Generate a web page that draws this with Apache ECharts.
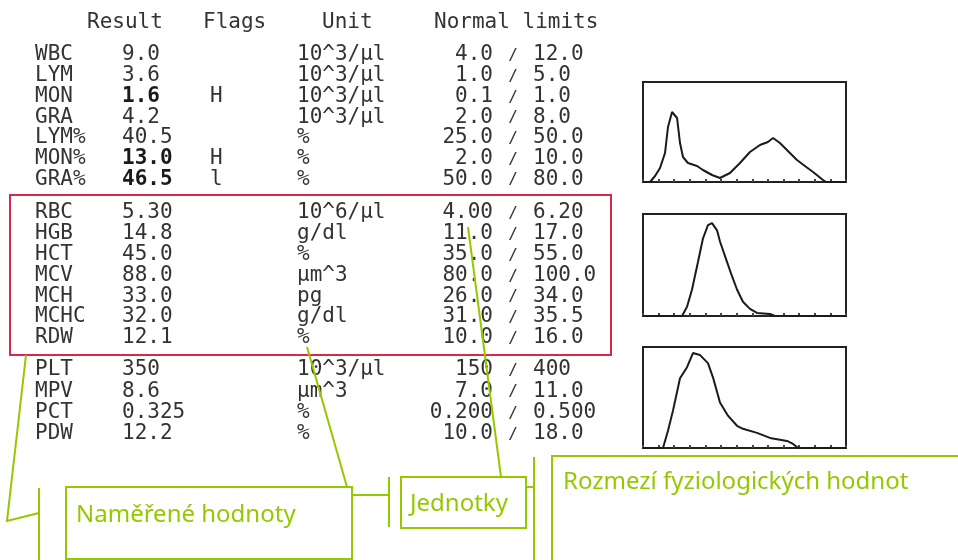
<!DOCTYPE html>
<html>
<head>
<meta charset="utf-8">
<script src="https://cdn.jsdelivr.net/npm/echarts@6/dist/echarts.min.js"></script>
<style>
html,body{margin:0;padding:0;background:#fff;}
#c{width:958px;height:560px;}
</style>
</head>
<body>
<div id="c"></div>
<script>
// ---- table data ----
const headers = ['Result', 'Flags', 'Unit', 'Normal limits'];
const names = ['WBC','LYM','MON','GRA','LYM%','MON%','GRA%','RBC','HGB','HCT','MCV','MCH','MCHC','RDW','PLT','MPV','PCT','PDW'];
const results = ['9.0','3.6','1.6','4.2','40.5','13.0','46.5','5.30','14.8','45.0','88.0','33.0','32.0','12.1','350','8.6','0.325','12.2'];
const flags = ['','','H','','','H','l','','','','','','','','','','',''];
const units = ['10^3/μl','10^3/μl','10^3/μl','10^3/μl','%','%','%','10^6/μl','g/dl','%','μm^3','pg','g/dl','%','10^3/μl','μm^3','%','%'];
const lowLimits = ['4.0','1.0','0.1','2.0','25.0','2.0','50.0','4.00','11.0','35.0','80.0','26.0','31.0','10.0','150','7.0','0.200','10.0'];
const highLimits = ['12.0','5.0','1.0','8.0','50.0','10.0','80.0','6.20','17.0','55.0','100.0','34.0','35.5','16.0','400','11.0','0.500','18.0'];
const annotations = ['Naměřené hodnoty', 'Jednotky', 'Rozmezí fyziologických hodnot'];

// ---- histogram data (channel, relative count) ----
const wbcHist = [[0,0],[4.5,0],[7.7,6],[10.9,14],[14.1,29],[16.0,55],[18.6,70],[21.8,64],[23.7,39],[25.6,25],[28.8,19],[34.6,16],[38.4,12],[44.2,7],[49.3,4],[55.7,9],[62.1,19],[68.5,30],[74.9,37],[80.0,40],[83.3,44],[87.7,39],[94.1,29],[98.6,22],[103.7,16],[108.9,10],[115.3,2],[117.2,0],[130,0]];
const rbcHist = [[0,0],[25.0,0],[28.2,9],[31.4,26],[35.2,53],[38.4,76],[41.6,89],[44.2,91],[47.4,84],[49.3,73],[53.8,53],[57.0,39],[60.2,26],[64.0,14],[68.5,7],[73.0,3],[81.3,2],[84.5,0],[130,0]];
const pltHist = [[0,0],[12.8,0],[16.0,17],[19.2,37],[23.7,69],[28.2,80],[32.0,94],[36.5,92],[41.6,84],[44.8,70],[49.3,45],[54.4,32],[60.2,22],[64.0,19],[73.0,15],[81.3,10],[92.2,7],[96.1,4],[99.3,0],[130,0]];
const histograms = [wbcHist, rbcHist, pltHist];

// ---- layout ----
const TEXT = '#333';
const GREEN = '#96c800';
const RED = '#d42a4e';
const MONO = '"DejaVu Sans Mono", "Liberation Mono", monospace';
const SANS = '"Noto Sans", "Open Sans", sans-serif';

function rowY(i) {
  if (i < 7) return 55 + i * 20.7;
  if (i < 14) return 213 + (i - 7) * 20.8;
  return 370 + (i - 14) * 21.2;
}
function t(text, x, y, opts) {
  return {
    type: 'text', x: x, y: y,
    style: Object.assign({
      text: text, fill: TEXT, fontFamily: MONO, fontSize: 21,
      textAlign: 'left', textVerticalAlign: 'middle'
    }, opts || {})
  };
}
const graphics = [];
const headerX = [87, 203, 322, 434];
headers.forEach((h, i) => graphics.push(t(h, headerX[i], 23)));
names.forEach((n, i) => {
  const y = rowY(i);
  const bold = flags[i] !== '';
  graphics.push(t(n, 35, y));
  graphics.push(t(results[i], 122, y, bold ? {fontWeight: 'bold', fill: '#1a1a1a'} : {}));
  if (flags[i]) graphics.push(t(flags[i], 210, y));
  graphics.push(t(units[i], 297, y));
  graphics.push(t(lowLimits[i], 493, y, {textAlign: 'right'}));
  graphics.push(t('/', 513, y + 1, {textAlign: 'center', fontSize: 16}));
  graphics.push(t(highLimits[i], 533, y));
});

// red frame
graphics.push({type: 'rect', shape: {x: 10, y: 195, width: 601, height: 160}, style: {fill: 'none', stroke: RED, lineWidth: 2}});

// green annotations
function gl(points) {
  return {type: 'polyline', shape: {points: points}, style: {stroke: GREEN, lineWidth: 2, fill: 'none'}};
}
graphics.push(gl([[26, 355], [7, 521], [39, 513]]));
graphics.push(gl([[39, 488], [39, 560]]));
graphics.push({type: 'rect', shape: {x: 66, y: 487, width: 286, height: 72}, style: {fill: 'none', stroke: GREEN, lineWidth: 2}});
graphics.push(gl([[307, 347], [347, 487]]));
graphics.push(gl([[352, 495], [389, 495]]));
graphics.push(gl([[389, 477], [389, 527]]));
graphics.push({type: 'rect', shape: {x: 401, y: 477, width: 125, height: 51}, style: {fill: 'none', stroke: GREEN, lineWidth: 2}});
graphics.push(gl([[468, 227], [501, 477]]));
graphics.push(gl([[526, 487], [534, 487]]));
graphics.push(gl([[534, 457], [534, 560]]));
graphics.push(gl([[552, 562], [552, 456], [960, 456]]));
graphics.push(t(annotations[0], 76, 515, {fill: GREEN, fontFamily: SANS, fontSize: 24}));
graphics.push(t(annotations[1], 410, 504, {fill: GREEN, fontFamily: SANS, fontSize: 24}));
graphics.push(t(annotations[2], 563, 482, {fill: GREEN, fontFamily: SANS, fontSize: 24}));

// histogram grids
const gridTops = [82, 214, 347];
const gridHeights = [100, 102, 101];
const grids = [], xAxes = [], yAxes = [], series = [];
histograms.forEach((h, i) => {
  grids.push({left: 643, width: 203, top: gridTops[i], height: gridHeights[i], show: true, borderColor: '#222', borderWidth: 2, backgroundColor: 'transparent'});
  xAxes.push({type: 'value', gridIndex: i, min: 0, max: 130, interval: 10,
    axisLine: {show: false}, axisLabel: {show: false}, splitLine: {show: false},
    axisTick: {show: true, inside: true, length: 3, lineStyle: {color: '#444', width: 2}}});
  yAxes.push({type: 'value', gridIndex: i, min: 0, max: 100, show: false, splitLine: {show: false}});
  series.push({type: 'line', xAxisIndex: i, yAxisIndex: i, data: h, showSymbol: false, symbol: 'none',
    lineStyle: {color: '#1a1a1a', width: 2}, animation: false});
});

const chart = echarts.init(document.getElementById('c'));
chart.setOption({
  backgroundColor: '#fff',
  animation: false,
  grid: grids, xAxis: xAxes, yAxis: yAxes, series: series,
  graphic: graphics
});
</script>
</body>
</html>
